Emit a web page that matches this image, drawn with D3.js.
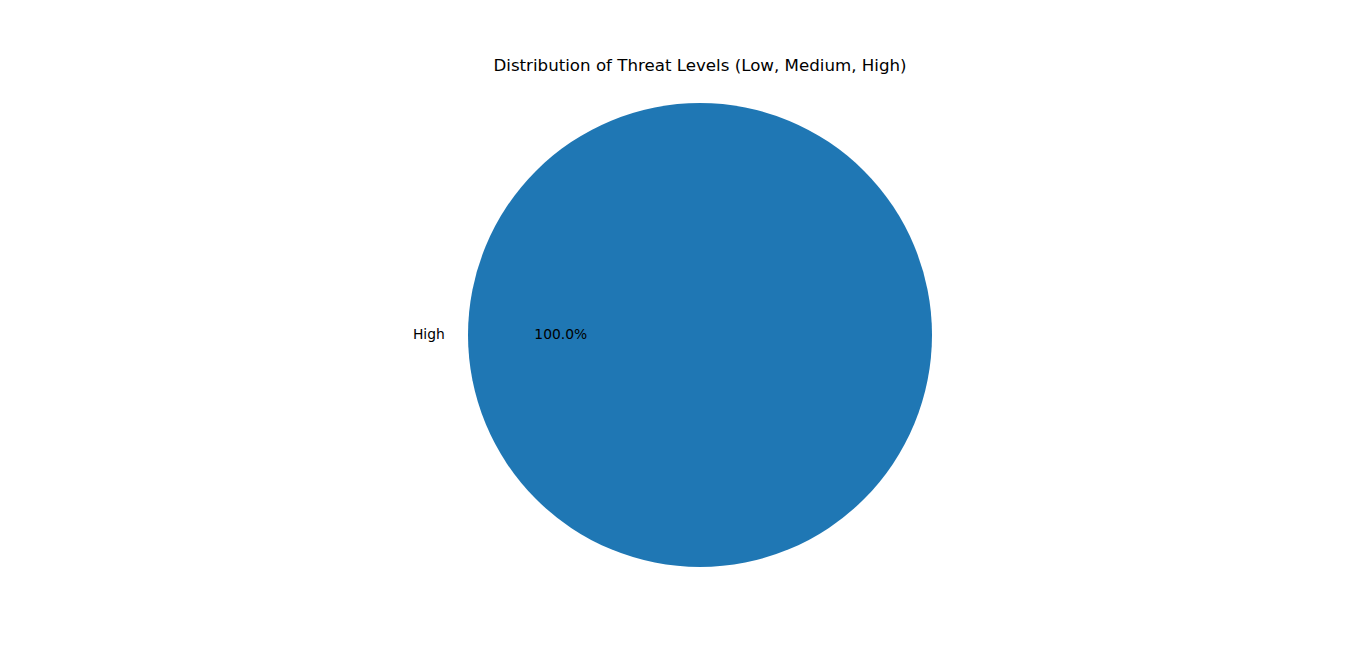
<!DOCTYPE html>
<html>
<head>
<meta charset="utf-8">
<script src="https://cdn.jsdelivr.net/npm/d3@7"></script>
<style>
  body { margin: 0; background: #fff; }
  text { font-family: "DejaVu Sans", sans-serif; fill: #000; }
</style>
</head>
<body>
<svg id="chart" width="1366" height="663"></svg>
<script>
// data
var categories = ["High"];
var counts = [1];
var colors = ["#1f77b4"];

var svg = d3.select("#chart"),
    width = +svg.attr("width"),
    height = +svg.attr("height");
var cx = 700, cy = 335, radius = 232;

svg.append("text")
  .attr("x", cx)
  .attr("y", 71)
  .attr("text-anchor", "middle")
  .attr("font-size", 16.67)
  .text("Distribution of Threat Levels (Low, Medium, High)");

var data = categories.map(function (c, i) {
  return {name: c, value: counts[i], color: colors[i]};
});
var total = d3.sum(counts);

// matplotlib style: start at 3 o'clock, go counterclockwise
var pie = d3.pie()
  .sort(null)
  .value(function (d) { return d.value; })
  .startAngle(Math.PI / 2)
  .endAngle(Math.PI / 2 - 2 * Math.PI);

var arc = d3.arc().innerRadius(0).outerRadius(radius);

var g = svg.append("g").attr("transform", "translate(" + cx + "," + cy + ")");
var arcs = pie(data);

g.selectAll("path")
  .data(arcs)
  .enter().append("path")
  .attr("d", arc)
  .attr("fill", function (d) { return d.data.color; });

function pos(d, r) {
  var a = (d.startAngle + d.endAngle) / 2;
  return [Math.sin(a) * r, -Math.cos(a) * r];
}

g.selectAll("text.label")
  .data(arcs)
  .enter().append("text")
  .attr("class", "label")
  .attr("x", function (d) { return pos(d, radius * 1.1)[0]; })
  .attr("y", function (d) { return pos(d, radius * 1.1)[1]; })
  .attr("dy", "0.3em")
  .attr("font-size", 13.89)
  .attr("text-anchor", function (d) { return pos(d, 1)[0] < 0 ? "end" : "start"; })
  .text(function (d) { return d.data.name; });

g.selectAll("text.pct")
  .data(arcs)
  .enter().append("text")
  .attr("class", "pct")
  .attr("x", function (d) { return pos(d, radius * 0.6)[0]; })
  .attr("y", function (d) { return pos(d, radius * 0.6)[1]; })
  .attr("dy", "0.3em")
  .attr("font-size", 13.89)
  .attr("text-anchor", "middle")
  .text(function (d) { return (d.data.value / total * 100).toFixed(1) + "%"; });
</script>
</body>
</html>
